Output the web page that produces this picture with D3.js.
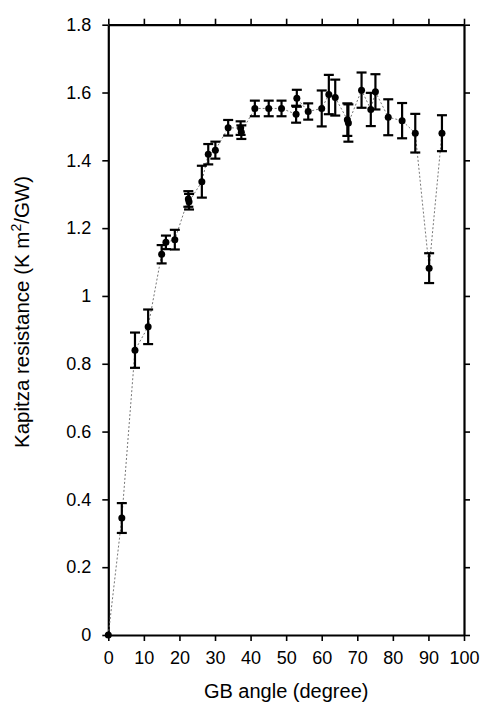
<!DOCTYPE html>
<html>
<head>
<meta charset="utf-8">
<script src="https://cdn.jsdelivr.net/npm/d3@7"></script>
<style>
  body { margin: 0; background: #fff; }
  text { font-family: "Liberation Sans", Arial, sans-serif; }
</style>
</head>
<body>
<script>
var width = 500,
    height = 709;

// GB angle (degree)
var angles = [0, 3.8, 7.5, 11.2, 15.0, 16.2, 18.7, 22.5, 22.7, 26.3, 28.1, 30.1, 33.7, 37.2, 37.4,
              41.2, 45.1, 48.7, 52.8, 53.0, 56.2, 60.0, 62.0, 63.8, 67.2, 67.5, 71.2, 73.8, 75.1,
              78.7, 82.6, 86.3, 90.2, 93.8];
// Kapitza resistance (K m^2/GW)
var resist = [0, 0.345, 0.840, 0.909, 1.123, 1.158, 1.166, 1.286, 1.278, 1.337, 1.418, 1.430, 1.496, 1.495, 1.483,
              1.553, 1.553, 1.553, 1.536, 1.583, 1.544, 1.553, 1.594, 1.585, 1.520, 1.510, 1.607, 1.550, 1.602,
              1.527, 1.517, 1.480, 1.082, 1.480];
// error bar half widths
var errs = [0, 0.044, 0.052, 0.051, 0.027, 0.02, 0.029, 0.023, 0.023, 0.047, 0.030, 0.025, 0.023, 0.02, 0.02,
            0.023, 0.023, 0.023, 0.025, 0.025, 0.024, 0.053, 0.058, 0.053, 0.048, 0.055, 0.052, 0.049, 0.052,
            0.053, 0.052, 0.057, 0.044, 0.053];

var xTicks = d3.range(0, 101, 10);
var yTicks = [0, 0.2, 0.4, 0.6, 0.8, 1, 1.2, 1.4, 1.6, 1.8];

var data = angles.map(function(a, i){ return {x: a, y: resist[i], e: errs[i]}; });

var pLeft = 108.3, pRight = 464, pTop = 24.7, pBottom = 635;

var x = d3.scaleLinear().domain([0, 100]).range([pLeft, pRight]);
var y = d3.scaleLinear().domain([0, 1.8]).range([pBottom, pTop]);

var svg = d3.select("body").append("svg")
    .attr("width", width)
    .attr("height", height);

// axes, ticks outward on all four sides
function styleAxis(g){
    g.selectAll("path").attr("stroke", "#000").attr("stroke-width", 2.2);
    g.selectAll("line").attr("stroke", "#000").attr("stroke-width", 1.6);
    g.selectAll("text").attr("font-size", "18px").attr("fill", "#000")
        .attr("font-family", "Liberation Sans, Arial, sans-serif");
}

svg.append("g")
    .attr("transform", "translate(0," + pBottom + ")")
    .call(d3.axisBottom(x).tickValues(xTicks).tickSizeInner(6).tickSizeOuter(0).tickPadding(10))
    .call(styleAxis);

svg.append("g")
    .attr("transform", "translate(0," + pTop + ")")
    .call(d3.axisTop(x).tickValues(xTicks).tickSizeInner(6).tickSizeOuter(0).tickFormat(""))
    .call(styleAxis);

svg.append("g")
    .attr("transform", "translate(" + pLeft + ",0)")
    .call(d3.axisLeft(y).tickValues(yTicks).tickSizeInner(6).tickSizeOuter(0).tickPadding(11)
        .tickFormat(function(d){ return String(+d.toFixed(1)); }))
    .call(styleAxis);

svg.append("g")
    .attr("transform", "translate(" + pRight + ",0)")
    .call(d3.axisRight(y).tickValues(yTicks).tickSizeInner(6).tickSizeOuter(0).tickFormat(""))
    .call(styleAxis);

// dotted connecting line
var line = d3.line()
    .x(d => x(d.x))
    .y(d => y(d.y));

svg.append("path")
    .datum(data)
    .attr("d", line)
    .attr("fill", "none")
    .attr("stroke", "#666")
    .attr("stroke-width", 0.9)
    .attr("stroke-dasharray", "2,2");

// error bars
var eb = svg.selectAll(".eb")
    .data(data.filter(d => d.e > 0))
    .enter().append("g")
    .attr("class", "eb")
    .attr("stroke", "#000")
    .attr("stroke-width", 2.2);

eb.append("line")
    .attr("x1", d => x(d.x)).attr("x2", d => x(d.x))
    .attr("y1", d => y(d.y - d.e)).attr("y2", d => y(d.y + d.e));
eb.append("line")
    .attr("x1", d => x(d.x) - 5).attr("x2", d => x(d.x) + 5)
    .attr("y1", d => y(d.y + d.e)).attr("y2", d => y(d.y + d.e));
eb.append("line")
    .attr("x1", d => x(d.x) - 5).attr("x2", d => x(d.x) + 5)
    .attr("y1", d => y(d.y - d.e)).attr("y2", d => y(d.y - d.e));

svg.selectAll("circle")
    .data(data)
    .enter()
    .append("circle")
    .attr("cx", d => x(d.x))
    .attr("cy", d => y(d.y))
    .attr("r", 3.5)
    .attr("fill", "#000");

// labels
svg.append("text")
    .attr("x", (pLeft + pRight) / 2)
    .attr("y", 698)
    .attr("text-anchor", "middle")
    .attr("font-size", "20px")
    .text("GB angle (degree)");

var yl = svg.append("text")
    .attr("transform", "translate(29,312) rotate(-90)")
    .attr("text-anchor", "middle")
    .attr("font-size", "20.5px");
yl.append("tspan").text("Kapitza resistance (K m");
yl.append("tspan").attr("dy", -8).attr("font-size", "14px").text("2");
yl.append("tspan").attr("dy", 8).text("/GW)");
</script>
</body>
</html>
